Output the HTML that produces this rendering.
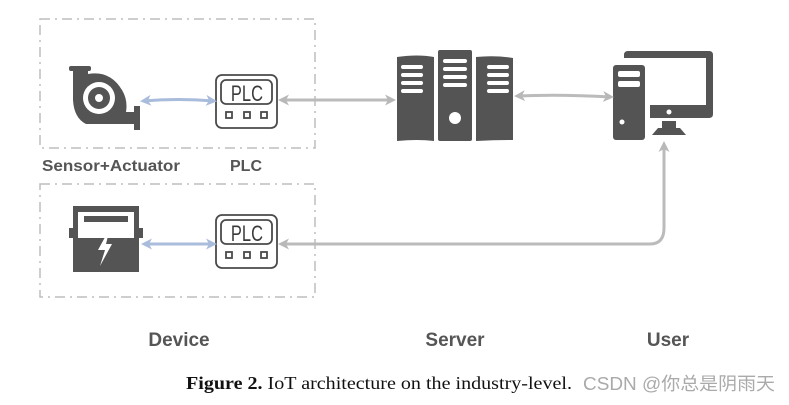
<!DOCTYPE html>
<html><head><meta charset="utf-8"><style>
html,body{margin:0;padding:0;background:#fff;width:789px;height:405px;overflow:hidden}
</style></head><body>
<svg width="789" height="405" viewBox="0 0 789 405" xmlns="http://www.w3.org/2000/svg">
<defs>
<marker id="ag" markerWidth="11" markerHeight="11" refX="8" refY="5.5" orient="auto-start-reverse" markerUnits="userSpaceOnUse"><path d="M0,0 L11,5.5 L0,11 L3,5.5 Z" fill="#b8b8b8"/></marker>
<marker id="ab" markerWidth="11" markerHeight="11" refX="8" refY="5.5" orient="auto-start-reverse" markerUnits="userSpaceOnUse"><path d="M0,0 L11,5.5 L0,11 L3,5.5 Z" fill="#a9bcdc"/></marker>
</defs>
<g fill="none" stroke="#bdbdbd" stroke-width="1.5" stroke-dasharray="10,5,2,5">
<rect x="40" y="19" width="275" height="129"/>
<rect x="40" y="184" width="275" height="113"/>
</g>
<!-- pump -->
<g fill="#545454">
<rect x="69" y="66" width="22" height="5" rx="2"/>
<path d="M73,70 H88 V74 Q110,70 122,90 Q128,100 126,112 H134 V106 H140 V130 H134 V124 H86 Q74,118 73,100 Z"/>
</g>
<circle cx="99" cy="98" r="16" fill="#fff"/>
<circle cx="99" cy="98" r="11" fill="#545454"/>
<circle cx="99" cy="98" r="4" fill="#fff"/>
<!-- PLCs -->
<g fill="none" stroke="#4a4a4a" stroke-width="1.8">
<rect x="216" y="75" width="61" height="53" rx="6"/>
<rect x="221" y="80" width="51" height="24" rx="5"/>
<rect x="226" y="112" width="6" height="6"/><rect x="244" y="112" width="6" height="6"/><rect x="261" y="112" width="6" height="6"/>
<rect x="216" y="215" width="61" height="53" rx="6"/>
<rect x="221" y="220" width="51" height="24" rx="5"/>
<rect x="226" y="252" width="6" height="6"/><rect x="244" y="252" width="6" height="6"/><rect x="261" y="252" width="6" height="6"/>
</g>
<g font-family="Liberation Sans, sans-serif" font-size="22" fill="#3a3a3a" text-anchor="middle" transform="scale(0.75,1)">
<text x="329.3" y="101">PLC</text><text x="329.3" y="241">PLC</text>
</g>
<!-- meter -->
<g fill="#545454">
<rect x="73" y="206" width="66" height="66"/>
<rect x="69" y="228" width="6" height="10"/><rect x="137" y="228" width="6" height="10"/>
</g>
<rect x="78" y="212" width="56" height="26" fill="#fff"/>
<rect x="84" y="216" width="44" height="6" fill="#545454"/>
<path d="M110,228 L98,250 L105,250 L100,266 L112,244 L106,244 Z" fill="#fff"/>
<!-- servers -->
<g fill="#545454">
<path d="M397,57 Q418,54 434,57 V141 Q418,139 397,141 Z"/>
<rect x="438" y="50" width="34" height="91" rx="2"/>
<path d="M476,57 Q495,55 513,58 V140 Q495,140 476,141 Z"/>
</g>
<g fill="#fff">
<rect x="401" y="65" width="22" height="4" rx="2"/><rect x="401" y="73" width="22" height="4" rx="2"/><rect x="401" y="81" width="22" height="4" rx="2"/><rect x="401" y="89" width="22" height="4" rx="2"/>
<rect x="443" y="59" width="24" height="4" rx="2"/><rect x="443" y="67" width="24" height="4" rx="2"/><rect x="443" y="75" width="24" height="4" rx="2"/><rect x="443" y="83" width="24" height="4" rx="2"/>
<rect x="487" y="65" width="22" height="4" rx="2"/><rect x="487" y="73" width="22" height="4" rx="2"/><rect x="487" y="81" width="22" height="4" rx="2"/><rect x="487" y="89" width="22" height="4" rx="2"/>
<circle cx="455" cy="118" r="6"/>
</g>
<!-- pc -->
<g fill="#545454">
<path d="M624,55 Q624,51 628,51 H709 Q713,51 713,55 V114 Q713,118 709,118 H650 V105 H706 V58 H624 Z"/>
<rect x="613" y="65" width="32" height="75" rx="3"/>
<rect x="662" y="121" width="14" height="7"/>
<path d="M658,128 H680 L686,135 H652 Z"/>
</g>
<g fill="#fff">
<rect x="618" y="71" width="22" height="6" rx="2"/><rect x="618" y="81" width="22" height="6" rx="2"/>
<circle cx="622" cy="122" r="2.5"/><circle cx="669" cy="112" r="2.5"/>
</g>
<!-- arrows -->
<path d="M143,101 Q178,98 214,101" stroke="#a9bcdc" stroke-width="3" fill="none" marker-start="url(#ab)" marker-end="url(#ab)"/>
<path d="M144,244 H214" stroke="#a9bcdc" stroke-width="3" fill="none" marker-start="url(#ab)" marker-end="url(#ab)"/>
<path d="M281,100 H393" stroke="#bbb" stroke-width="3" fill="none" marker-start="url(#ag)" marker-end="url(#ag)"/>
<path d="M517,96 Q560,94 611,97" stroke="#bbb" stroke-width="3" fill="none" marker-start="url(#ag)" marker-end="url(#ag)"/>
<path d="M281,244 H650 Q664,244 664,228 V144" stroke="#bbb" stroke-width="3" fill="none" marker-start="url(#ag)" marker-end="url(#ag)"/>
<!-- labels -->
<g font-family="Liberation Sans, sans-serif" font-weight="bold" fill="#555">
<text x="42" y="171" font-size="16" textLength="138" lengthAdjust="spacingAndGlyphs">Sensor+Actuator</text>
<text x="246" y="171" font-size="16" text-anchor="middle">PLC</text>
<text x="179" y="346" font-size="19" text-anchor="middle">Device</text>
<text x="455" y="346" font-size="19" text-anchor="middle">Server</text>
<text x="668" y="346" font-size="19" text-anchor="middle">User</text>
</g>
<text x="186" y="389" font-family="Liberation Serif, serif" font-size="18" fill="#111" textLength="386" lengthAdjust="spacingAndGlyphs"><tspan font-weight="bold">Figure 2.</tspan> IoT architecture on the industry-level.</text>
<text x="583" y="390" font-family="Liberation Sans, 'Noto Sans CJK SC', sans-serif" font-size="18" fill="#aaa" textLength="192" lengthAdjust="spacingAndGlyphs">CSDN @你总是阴雨天</text>
</svg>
</body></html>
